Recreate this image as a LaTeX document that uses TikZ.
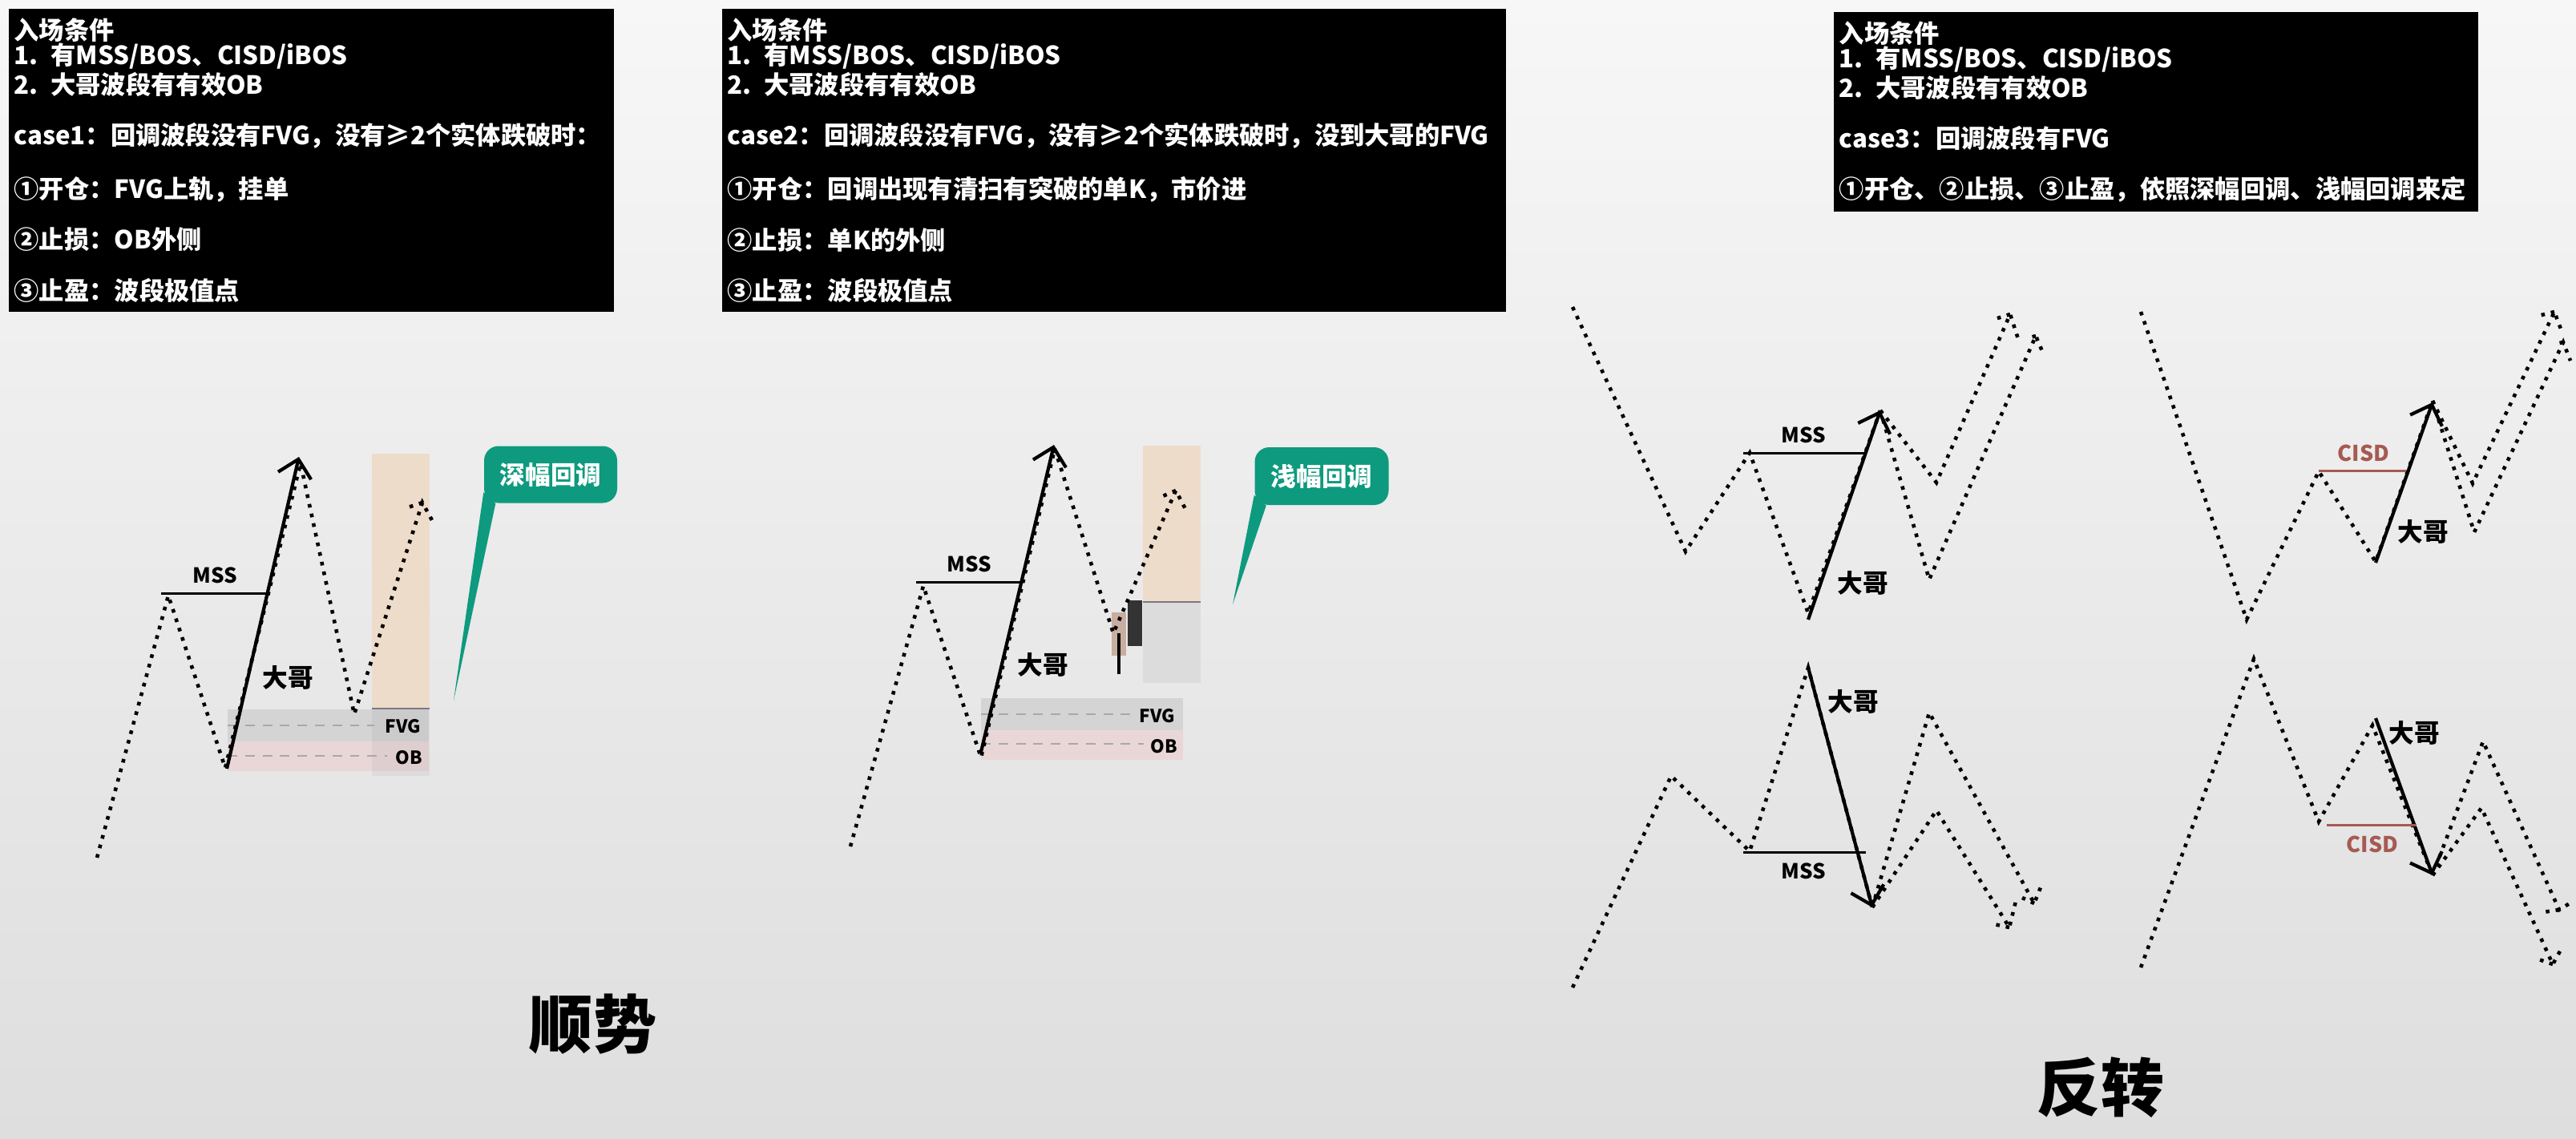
\documentclass[tikz,border=0pt]{standalone}
\usepackage{fontspec}
\setmainfont{Noto Sans CJK SC}
\usetikzlibrary{arrows.meta}
\definecolor{bgtop}{RGB}{247,247,247}
\definecolor{bgbot}{RGB}{222,222,222}
\definecolor{zoneorange}{RGB}{238,220,202}
\definecolor{fvggray}{RGB}{212,212,212}
\definecolor{obpink}{RGB}{233,215,216}
\definecolor{zonegray}{RGB}{220,220,220}
\definecolor{edgegray}{RGB}{122,122,130}
\definecolor{dashgray}{RGB}{168,168,168}
\definecolor{calloutgreen}{RGB}{14,154,126}
\definecolor{cisdred}{RGB}{166,90,82}
\definecolor{candlelight}{RGB}{200,174,160}
\definecolor{candledark}{RGB}{51,51,51}
\tikzset{
  rulebox/.style={fill=black,text=white,align=left,anchor=north west,
    inner xsep=0.07cm,font=\fontsize{8.9}{9}\selectfont\bfseries},
  price/.style={line width=1.3pt,dash pattern=on 1.3pt off 2.2pt},
  bigarrow/.style={line width=1.2pt,-{Straight Barb[length=6pt,width=12pt]}},
  levelline/.style={line width=0.85pt},
  zonedash/.style={dashgray,line width=0.55pt,dash pattern=on 3.4pt off 2.8pt},
  zonelabel/.style={font=\fontsize{6.4}{7}\selectfont\bfseries,inner sep=0pt},
  msslabel/.style={font=\fontsize{7.4}{8}\selectfont\bfseries,inner sep=0pt},
  cisdlabel/.style={text=cisdred,font=\fontsize{7.7}{8}\selectfont\bfseries,inner sep=0pt},
  bigbro/.style={font=\fontsize{9}{10}\selectfont\bfseries,inner sep=0pt},
  bubble/.style={fill=calloutgreen,text=white,rounded corners=0.18cm,
    font=\fontsize{9}{10}\selectfont\bfseries,inner sep=0pt},
  title/.style={font=\fontsize{22.5}{24}\selectfont\bfseries,inner sep=0pt}
}

\begin{document}
\begin{tikzpicture}[x=1cm,y=-1cm]
  \useasboundingbox (0,0) rectangle (32.14,14.2);
  \fill[top color=bgtop,bottom color=bgbot] (0,0) rectangle (32.14,14.2);

  % entry conditions
  \node[rulebox,text width=7.41cm,minimum height=3.61cm] (rule1) at (0.10,0.10)
    {入场条件\\1. 有MSS/BOS、CISD/iBOS\\2. 大哥波段有有效OB\\[9pt]
     case1：回调波段没有FVG，没有≥2个实体跌破时：\\[9pt]
     ①开仓：FVG上轨，挂单\\[9pt]②止损：OB外侧\\[9pt]③止盈：波段极值点};
  \node[rulebox,text width=9.64cm,minimum height=3.61cm] (rule2) at (9.00,0.10)
    {入场条件\\1. 有MSS/BOS、CISD/iBOS\\2. 大哥波段有有效OB\\[9pt]
     case2：回调波段没有FVG，没有≥2个实体跌破时，没到大哥的FVG\\[9pt]
     ①开仓：回调出现有清扫有突破的单K，市价进\\[9pt]②止损：单K的外侧\\[9pt]③止盈：波段极值点};
  \node[rulebox,text width=7.90cm,minimum height=2.29cm] (rule3) at (22.87,0.14)
    {入场条件\\1. 有MSS/BOS、CISD/iBOS\\2. 大哥波段有有效OB\\[9pt]
     case3：回调波段有FVG\\[9pt]
     ①开仓、②止损、③止盈，依照深幅回调、浅幅回调来定};

  % case1, deep pullback
  \fill[zoneorange] (4.64,5.66) rectangle (5.36,8.83);
  \fill[fvggray] (2.84,8.85) rectangle (5.35,9.25);
  \fill[obpink] (2.84,9.25) rectangle (5.35,9.62);
  \fill[black,opacity=0.04] (4.64,8.84) rectangle (5.36,9.68);
  \draw[edgegray,line width=0.8pt] (4.64,8.84) -- (5.36,8.84);
  \draw[zonedash] (2.84,9.05) -- (4.67,9.05);
  \draw[zonedash] (2.84,9.43) -- (4.83,9.43);
  \node[zonelabel] (fvg1) at (5.03,9.06) {FVG};
  \node[zonelabel] (ob1) at (5.10,9.45) {OB};
  \draw[price] (1.21,10.70) -- (2.10,7.43) -- (2.81,9.58) -- (3.75,5.78)
    -- (4.42,8.91) -- (5.27,6.27) -- (5.39,6.49);
  \draw[price] (5.27,6.27) -- (5.06,6.34);
  \coordinate (low1) at (2.83,9.59);
  \coordinate (top1) at (3.73,5.70);
  \draw[bigarrow] (low1) -- (top1);
  \draw[levelline] (2.01,7.40) -- (3.32,7.40);
  \node[msslabel] (mss1) at (2.68,7.18) {MSS};
  \node[bigbro] (bro1) at (3.59,8.45) {大哥};
  \node[bubble,minimum width=1.66cm,minimum height=0.71cm] (deep) at (6.87,5.92) {深幅回调};
  \coordinate (tip1) at (5.66,8.74);
  \fill[calloutgreen] ([yshift=0.14cm]deep.south west) -- ([xshift=0.15cm]deep.south west)
    -- (tip1) -- cycle;

  % case2, shallow pullback
  \fill[zoneorange] (14.26,5.56) rectangle (14.98,7.51);
  \fill[zonegray] (14.26,7.52) rectangle (14.98,8.52);
  \draw[edgegray,line width=0.8pt] (14.26,7.51) -- (14.98,7.51);
  \fill[fvggray] (12.24,8.71) rectangle (14.76,9.11);
  \fill[obpink] (12.24,9.11) rectangle (14.76,9.48);
  \draw[zonedash] (12.24,8.91) -- (14.13,8.91);
  \draw[zonedash] (12.24,9.28) -- (14.27,9.28);
  \node[zonelabel] (fvg2) at (14.44,8.93) {FVG};
  \node[zonelabel] (ob2) at (14.52,9.31) {OB};
  \fill[candlelight] (13.87,7.64) rectangle (14.05,8.18);
  \draw[line width=1.1pt] (13.96,7.90) -- (13.96,8.41);
  \fill[candledark] (14.07,7.49) rectangle (14.25,8.06);
  \draw[price] (10.61,10.56) -- (11.52,7.31) -- (12.24,9.45) -- (13.16,5.60)
    -- (13.89,7.90) -- (14.67,6.12) -- (14.79,6.35);
  \draw[price] (14.67,6.12) -- (14.46,6.21);
  \coordinate (low2) at (12.24,9.38);
  \coordinate (top2) at (13.15,5.55);
  \draw[bigarrow] (low2) -- (top2);
  \draw[levelline] (11.43,7.26) -- (12.73,7.26);
  \node[msslabel] (mss2) at (12.09,7.04) {MSS};
  \node[bigbro] (bro2) at (13.01,8.29) {大哥};
  \node[bubble,minimum width=1.67cm,minimum height=0.72cm] (shallow) at (16.49,5.94) {浅幅回调};
  \coordinate (tip2) at (15.38,7.54);
  \fill[calloutgreen] ([yshift=0.13cm]shallow.south west) -- ([xshift=0.15cm]shallow.south west)
    -- (tip2) -- cycle;

  % reversal, bullish MSS
  \draw[price] (19.62,3.83) -- (21.03,6.88) -- (21.83,5.65) -- (22.56,7.65) -- (23.46,5.12);
  \draw[price] (23.46,5.12) -- (24.16,6.02) -- (25.08,3.92) -- (25.19,4.26);
  \draw[price] (25.08,3.92) -- (24.89,3.98);
  \draw[price] (23.46,5.12) -- (24.07,7.23) -- (25.40,4.19) -- (25.50,4.43);
  \draw[price] (25.40,4.19) -- (25.30,4.22);
  \coordinate (low3) at (22.56,7.73);
  \coordinate (top3) at (23.46,5.12);
  \draw[bigarrow] (low3) -- (top3);
  \draw[levelline] (21.75,5.65) -- (23.28,5.65);
  \node[msslabel] (mss3) at (22.50,5.43) {MSS};
  \node[bigbro] (bro3) at (23.24,7.27) {大哥};

  % reversal, bullish CISD
  \draw[price] (26.71,3.89) -- (28.03,7.73) -- (28.93,5.88) -- (29.64,7.01) -- (30.35,5.00);
  \draw[price] (30.35,5.00) -- (30.85,6.03) -- (31.87,3.89) -- (31.96,4.13);
  \draw[price] (31.87,3.89) -- (31.67,3.94);
  \draw[price] (30.35,5.00) -- (30.87,6.64) -- (31.98,4.27) -- (32.07,4.50);
  \draw[price] (31.98,4.27) -- (31.88,4.29);
  \coordinate (low4) at (29.64,7.02);
  \coordinate (top4) at (30.35,5.02);
  \draw[bigarrow] (low4) -- (top4);
  \draw[levelline,cisdred] (28.93,5.87) -- (30.02,5.87);
  \node[cisdlabel] (cisd4) at (29.49,5.65) {CISD};
  \node[bigbro] (bro4) at (30.23,6.63) {大哥};

  % reversal, bearish MSS
  \draw[price] (19.62,12.32) -- (20.85,9.68) -- (21.83,10.62) -- (22.56,8.33) -- (23.36,11.32);
  \draw[price] (23.36,11.32) -- (24.07,8.89) -- (25.38,11.27) -- (25.46,11.07);
  \draw[price] (25.38,11.27) -- (25.23,11.20);
  \draw[price] (23.36,11.32) -- (24.16,10.11) -- (25.07,11.57) -- (25.16,11.20);
  \draw[price] (25.07,11.57) -- (24.83,11.52);
  \coordinate (top5) at (22.56,8.33);
  \coordinate (low5) at (23.36,11.32);
  \draw[bigarrow] (top5) -- (low5);
  \draw[levelline] (21.75,10.63) -- (23.28,10.63);
  \node[msslabel] (mss5) at (22.50,10.87) {MSS};
  \node[bigbro] (bro5) at (23.12,8.75) {大哥};

  % reversal, bearish CISD
  \draw[price] (26.71,12.07) -- (28.12,8.22) -- (28.93,10.25) -- (29.60,9.05) -- (30.35,10.92);
  \draw[price] (30.35,10.92) -- (30.98,9.25) -- (31.93,11.35) -- (32.06,11.27);
  \draw[price] (31.93,11.35) -- (31.73,11.38);
  \draw[price] (30.35,10.92) -- (30.96,10.08) -- (31.85,12.03) -- (31.96,11.83);
  \draw[price] (31.85,12.03) -- (31.62,11.95);
  \coordinate (top6) at (29.64,8.96);
  \coordinate (low6) at (30.35,10.92);
  \draw[bigarrow] (top6) -- (low6);
  \draw[levelline,cisdred] (29.03,10.29) -- (30.15,10.29);
  \node[cisdlabel] (cisd6) at (29.60,10.53) {CISD};
  \node[bigbro] (bro6) at (30.12,9.14) {大哥};

  \node[title] (trend) at (7.40,12.78) {顺势};
  \node[title] (reverse) at (26.21,13.57) {反转};
\end{tikzpicture}
\end{document}
